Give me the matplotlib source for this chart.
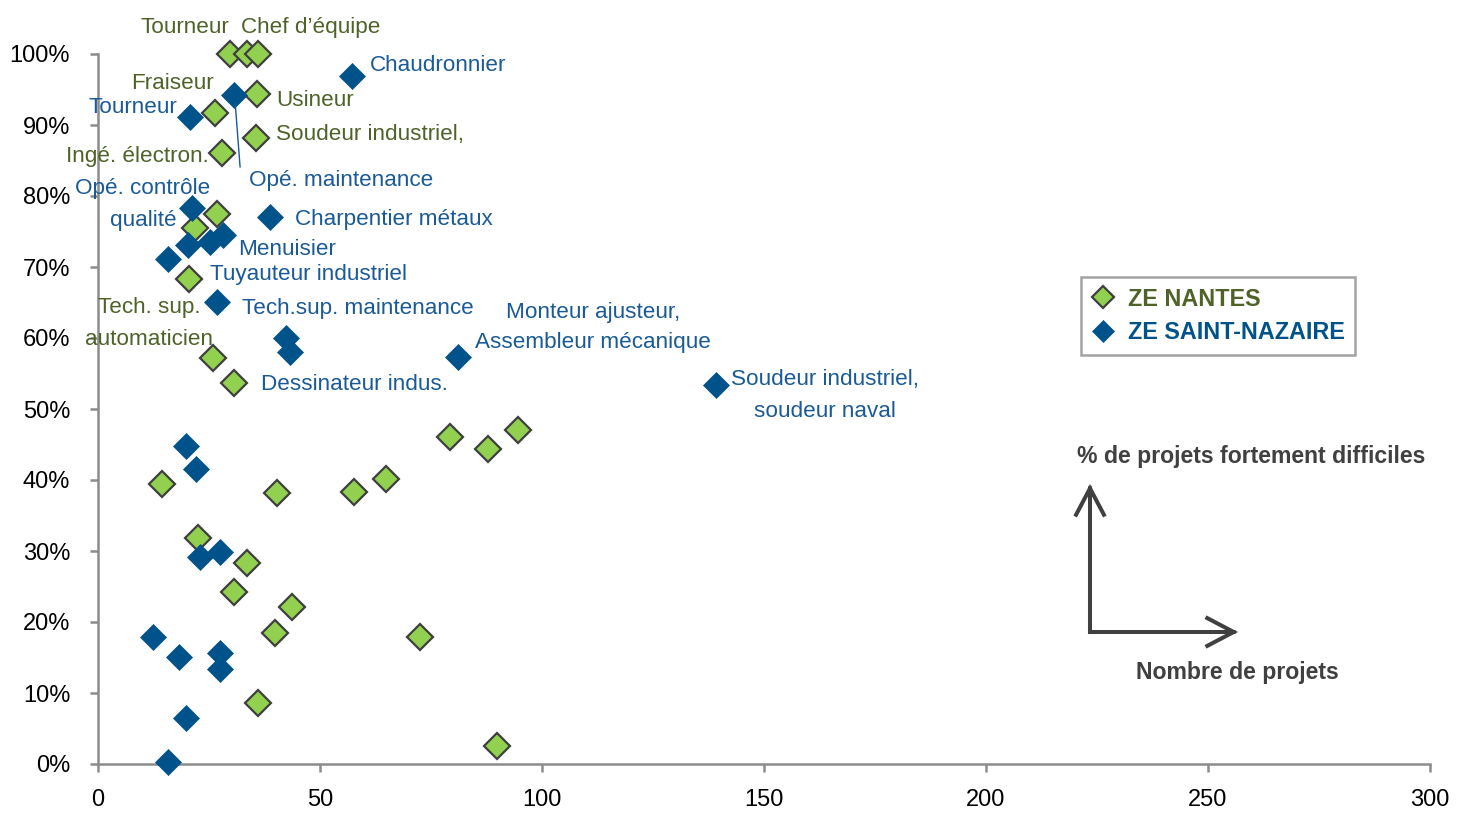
import matplotlib
matplotlib.use("Agg")
import matplotlib.pyplot as plt
from matplotlib.patches import FancyArrowPatch
from matplotlib.lines import Line2D
from matplotlib.ticker import FuncFormatter

FONT = ['Liberation Sans', 'DejaVu Sans']
plt.rcParams['font.family'] = FONT

# ---------------- data ----------------
nantes_x = [29.7, 33.6, 36.0, 35.8, 26.4, 35.6, 27.9, 26.8, 21.8, 20.5, 25.9, 30.6,
            79.3, 87.8, 94.6, 14.4, 40.3, 57.7, 64.9, 22.5, 33.6, 30.6, 43.7, 39.9,
            72.5, 36.0, 89.9]
nantes_y = [1.000, 1.000, 1.000, 0.944, 0.917, 0.882, 0.860, 0.775, 0.755, 0.683, 0.572, 0.537,
            0.461, 0.444, 0.470, 0.394, 0.382, 0.383, 0.401, 0.318, 0.283, 0.242, 0.221, 0.184,
            0.179, 0.086, 0.025]

stnaz_x = [57.2, 30.6, 20.7, 21.2, 38.7, 20.3, 25.2, 28.2, 15.8, 26.8, 42.3, 43.2,
           81.1, 139.2, 19.8, 22.1, 23.0, 27.5, 12.4, 18.2, 27.5, 27.5, 19.8, 15.8]
stnaz_y = [0.969, 0.942, 0.911, 0.783, 0.770, 0.731, 0.735, 0.745, 0.711, 0.651, 0.600, 0.580,
           0.573, 0.534, 0.448, 0.415, 0.292, 0.299, 0.179, 0.151, 0.156, 0.134, 0.065, 0.003]

series_names = ['ZE NANTES', 'ZE SAINT-NAZAIRE']

x_ticks = [0, 50, 100, 150, 200, 250, 300]
y_ticks = [0.0, 0.1, 0.2, 0.3, 0.4, 0.5, 0.6, 0.7, 0.8, 0.9, 1.0]

# labels: (text, x, y, ha, series)
labels = [
    ("Tourneur", 9.46, 1.041, 'left', 0),
    ("Chef d\u2019\u00e9quipe", 32.2, 1.041, 'left', 0),
    ("Fraiseur", 7.43, 0.961, 'left', 0),
    ("Usineur", 40.1, 0.937, 'left', 0),
    ("Soudeur industriel,", 40.1, 0.890, 'left', 0),
    ("Ing\u00e9. \u00e9lectron.", -7.2, 0.859, 'left', 0),
    ("Tech. sup.", 11.5, 0.646, 'center', 0),
    ("automaticien", 11.5, 0.601, 'center', 0),
    ("Chaudronnier", 61.3, 0.987, 'left', 1),
    ("Tourneur", -2.25, 0.928, 'left', 1),
    ("Op\u00e9. maintenance", 34.0, 0.825, 'left', 1),
    ("Op\u00e9. contr\u00f4le", 10.1, 0.813, 'center', 1),
    ("qualit\u00e9", 10.1, 0.768, 'center', 1),
    ("Charpentier m\u00e9taux", 44.4, 0.770, 'left', 1),
    ("Menuisier", 31.5, 0.728, 'left', 1),
    ("Tuyauteur industriel", 25.2, 0.693, 'left', 1),
    ("Tech.sup. maintenance", 32.4, 0.644, 'left', 1),
    ("Monteur ajusteur,", 111.5, 0.639, 'center', 1),
    ("Assembleur m\u00e9canique", 111.5, 0.596, 'center', 1),
    ("Dessinateur indus.", 36.7, 0.537, 'left', 1),
    ("Soudeur industriel,", 163.7, 0.544, 'center', 1),
    ("soudeur naval", 163.7, 0.499, 'center', 1),
]

# ---------------- style ----------------
GREEN = '#92D050'
GREEN_EDGE = '#3F3F3F'
BLUE = '#00528A'
GREEN_TXT = '#4F6228'
BLUE_TXT = '#1A5A96'
AXIS_C = '#8C8C8C'
DARK = '#404040'

fig = plt.figure(figsize=(14.6, 8.15), dpi=100)
ax = fig.add_axes([98/1460, 1-764/815, 1332/1460, 710/815])

ax.plot(nantes_x, nantes_y, linestyle='none', marker='D', ms=13,
        mfc=GREEN, mec=GREEN_EDGE, mew=1.6, clip_on=False, zorder=3,
        label=series_names[0])
ax.plot(stnaz_x, stnaz_y, linestyle='none', marker='D', ms=13,
        mfc=BLUE, mec=BLUE, mew=0.5, clip_on=False, zorder=4,
        label=series_names[1])

for txt, x, y, ha, s in labels:
    ax.text(x, y - 0.003, txt, ha=ha, va='center', fontsize=16.2,
            color=GREEN_TXT if s == 0 else BLUE_TXT, clip_on=False, zorder=5)

# leader line for "Opé. maintenance"
ax.add_line(Line2D([30.9, 32.0], [0.931, 0.841], color=BLUE_TXT, lw=1.0,
                   clip_on=False, zorder=5))

ax.set_xlim(0, 300)
ax.set_ylim(0, 1.0)
ax.set_xticks(x_ticks)
ax.set_yticks(y_ticks)
ax.yaxis.set_major_formatter(FuncFormatter(lambda v, p: f"{v*100:.0f}%"))

for sp in ['top', 'right']:
    ax.spines[sp].set_visible(False)
for sp in ['left', 'bottom']:
    ax.spines[sp].set_color(AXIS_C)
    ax.spines[sp].set_linewidth(1.8)

ax.tick_params(axis='both', direction='out', length=6, width=1.8, color=AXIS_C,
               labelsize=17, labelcolor='black')
ax.tick_params(axis='y', pad=14)
ax.tick_params(axis='x', pad=12)

leg = ax.legend(loc='upper left', bbox_to_anchor=(1081/1460, 1-277/815),
                bbox_transform=fig.transFigure, borderaxespad=0,
                frameon=True, fancybox=False, edgecolor=AXIS_C,
                prop={'family': FONT, 'weight': 'bold', 'size': 16.8},
                handletextpad=0.55, borderpad=0.45, labelspacing=0.45,
                handlelength=1.0, markerscale=0.85)
leg.get_frame().set_linewidth(1.8)
for t, c in zip(leg.get_texts(), [GREEN_TXT, BLUE]):
    t.set_color(c)

# axis explanation
fig.text(1077/1460, 1-456/815, "% de projets fortement difficiles", ha='left', va='center',
         fontsize=16.6, fontweight='bold', color=DARK)
fig.text(1237/1460, 1-673/815, "Nombre de projets", ha='center', va='center',
         fontsize=16.6, fontweight='bold', color=DARK)

corner = (1090/1460, 1-632/815)
for end in [(1090/1460, 1-484/815), (1238/1460, 1-632/815)]:
    arr = FancyArrowPatch(corner, end, transform=fig.transFigure,
                          arrowstyle='->,head_length=19,head_width=10',
                          color=DARK, lw=2.9, shrinkA=0, shrinkB=0,
                          capstyle='projecting', joinstyle='miter')
    fig.add_artist(arr)

fig.savefig('out.png', dpi=100)
